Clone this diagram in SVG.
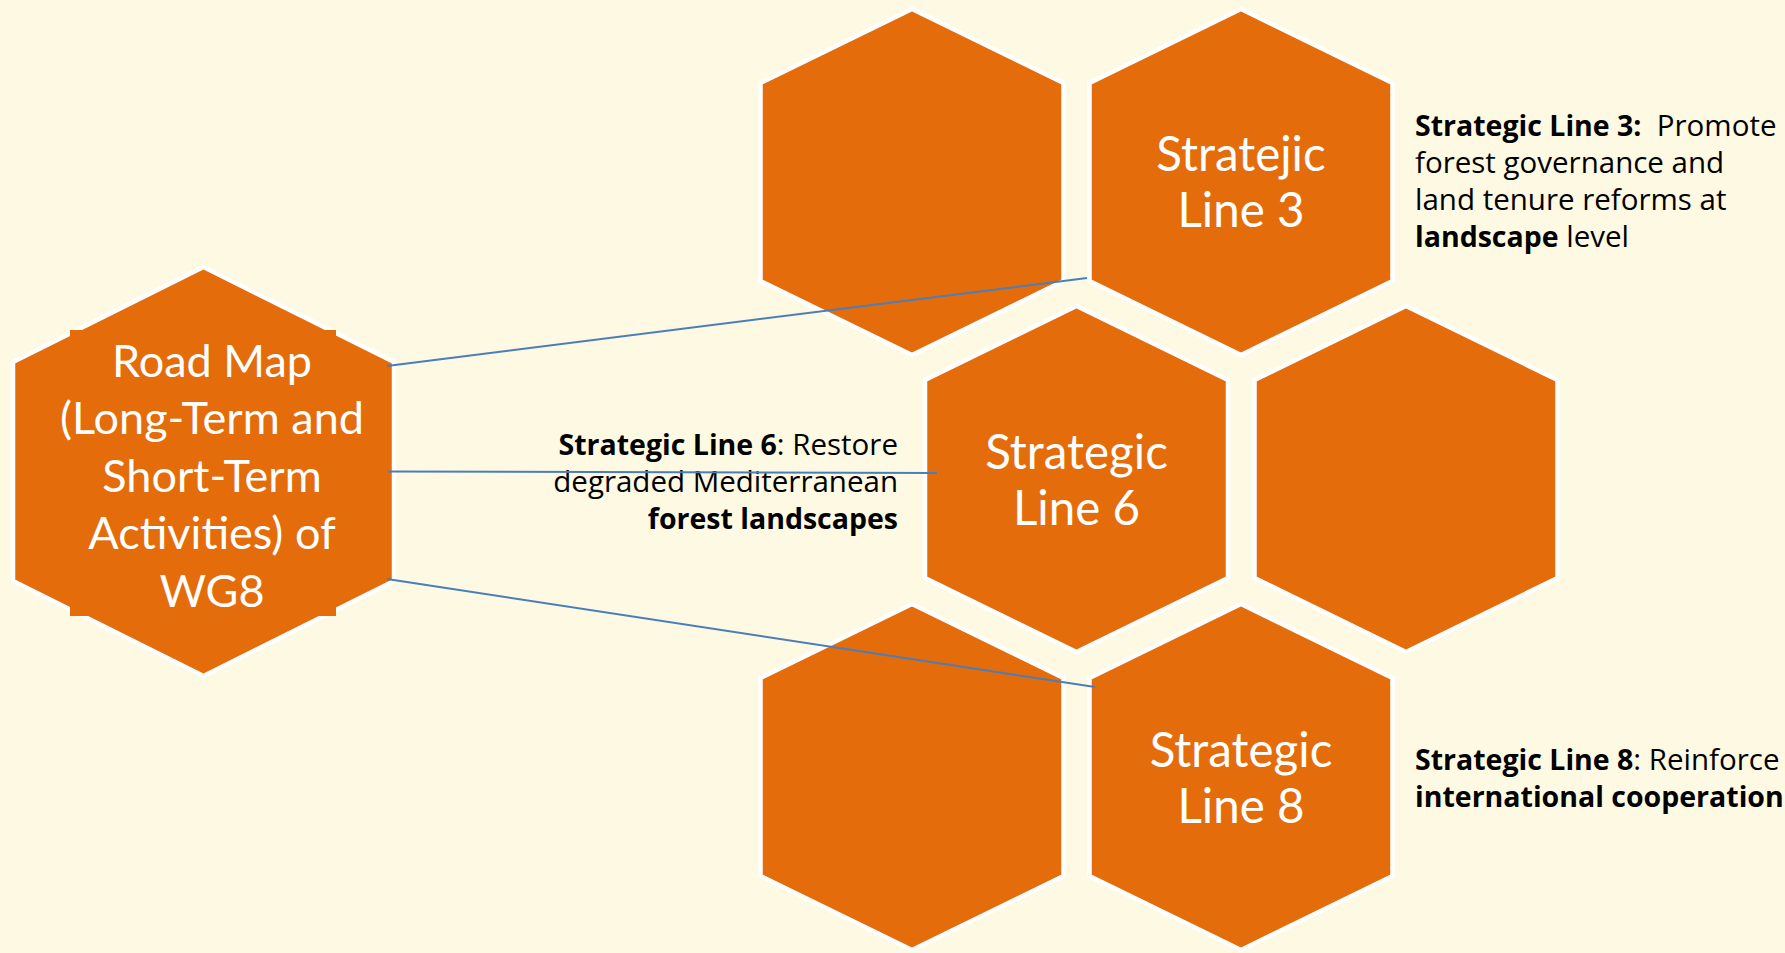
<svg xmlns="http://www.w3.org/2000/svg" width="1785" height="953" viewBox="0 0 1785 953">
<style>
.hex{fill:#E46C0A;stroke:#FFFFFF;stroke-width:4.5;stroke-linejoin:miter}
.ht{font-family:Lato,"Liberation Sans",sans-serif;fill:#FFFFFF;text-anchor:middle}
.big{font-size:45px}
.mid{font-size:47.5px}
.lbl{font-family:"Open Sans","Liberation Sans",sans-serif;font-size:29.5px;fill:#000000}
.b{font-weight:bold;font-size:28.5px}
.conn{stroke:#4A7EBB;stroke-width:2;fill:none}
</style>
<rect x="0" y="0" width="1785" height="953" fill="#FEF9E2"/>
<g id="roadmap">
<polygon class="hex" points="203.5,267 394,362 394,581 203.5,676 13,581 13,362"/>
<rect x="70" y="330" width="266" height="286" fill="#E46C0A"/>
<text class="ht big"><tspan x="212" y="377">Road Map</tspan><tspan x="212" y="434">(Long-Term and</tspan><tspan x="212" y="492">Short-Term</tspan><tspan x="212" y="549">Activities) of</tspan><tspan x="212" y="607">WG8</tspan></text>
</g>
<g id="hex-a"><polygon class="hex" points="912,9 1063.5,83 1063.5,281 912,355 760.5,281 760.5,83"/></g>
<g id="line3">
<polygon class="hex" points="1241,9 1392.5,83 1392.5,281 1241,355 1089.5,281 1089.5,83"/>
<text class="ht mid"><tspan x="1241" y="171">Stratejic</tspan><tspan x="1241" y="227">Line 3</tspan></text>
</g>
<g id="line6">
<polygon class="hex" points="1076.5,306 1228,380 1228,578 1076.5,652 925,578 925,380"/>
<text class="ht mid"><tspan x="1076.5" y="469">Strategic</tspan><tspan x="1076.5" y="525">Line 6</tspan></text>
</g>
<g id="hex-d"><polygon class="hex" points="1406,306 1557.5,380 1557.5,578 1406,652 1254.5,578 1254.5,380"/></g>
<g id="hex-e"><polygon class="hex" points="912,604 1063.5,678 1063.5,876 912,950 760.5,876 760.5,678"/></g>
<g id="line8">
<polygon class="hex" points="1241,604 1392.5,678 1392.5,876 1241,950 1089.5,876 1089.5,678"/>
<text class="ht mid"><tspan x="1241" y="767">Strategic</tspan><tspan x="1241" y="823">Line 8</tspan></text>
</g>
<g id="desc3">
<text class="lbl" xml:space="preserve"><tspan x="1415" y="136"><tspan class="b">Strategic Line 3:</tspan>  Promote</tspan><tspan x="1415" y="173">forest governance and</tspan><tspan x="1415" y="210">land tenure reforms at</tspan><tspan x="1415" y="247"><tspan class="b">landscape</tspan> level</tspan></text>
</g>
<g id="desc6">
<text class="lbl" text-anchor="end"><tspan x="898" y="455"><tspan class="b">Strategic Line 6</tspan>: Restore</tspan><tspan x="898" y="492">degraded Mediterranean</tspan><tspan x="898" y="529" class="b">forest landscapes</tspan></text>
</g>
<g id="desc8">
<text class="lbl"><tspan x="1415" y="770"><tspan class="b">Strategic Line 8</tspan>: Reinforce</tspan><tspan x="1415" y="807" class="b">international cooperation</tspan></text>
</g>
<g id="connectors">
<line class="conn" x1="387" y1="366" x2="1087" y2="278"/>
<line class="conn" x1="388" y1="471.5" x2="937" y2="473"/>
<line class="conn" x1="387" y1="579" x2="1095" y2="687"/>
</g>
</svg>
